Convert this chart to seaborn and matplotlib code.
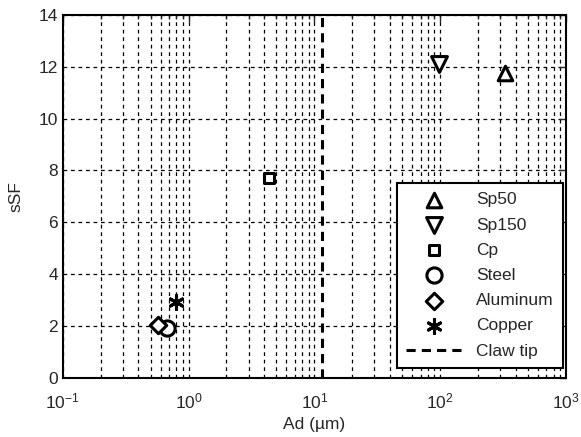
import numpy as np
import pandas as pd
import matplotlib
matplotlib.use("Agg")
import matplotlib.pyplot as plt
import seaborn as sns

# data
materials = ['Sp50', 'Sp150', 'Cp', 'Steel', 'Aluminum', 'Copper']
ad_um = [330, 98, 4.4, 0.67, 0.57, 0.8]
ssf = [11.75, 12.1, 7.7, 1.93, 2.04, 2.93]
claw_tip_ad = 11.6

markers = ['^', 'v', 's', 'o', 'D', (6, 2, 0)]
sizes = [110, 130, 60, 120, 70, 100]

df = pd.DataFrame({'material': materials, 'ad': ad_um, 'ssf': ssf})

sns.set_style('white')
plt.rcParams['font.family'] = ['Liberation Sans', 'DejaVu Sans']
plt.rcParams['mathtext.fontset'] = 'custom'
plt.rcParams['mathtext.rm'] = 'Liberation Sans'

fig, ax = plt.subplots(figsize=(5.81, 4.37), dpi=100)

for m, mk, s in zip(materials, markers, sizes):
    sub = df[df['material'] == m]
    if isinstance(mk, tuple):
        sns.scatterplot(data=sub, x='ad', y='ssf', marker=mk, s=s, color='black',
                        linewidth=2.2, edgecolor='black', label=m, ax=ax, zorder=3)
    else:
        sns.scatterplot(data=sub, x='ad', y='ssf', marker=mk, s=s, facecolor='white',
                        edgecolor='black', linewidth=2.2, label=m, ax=ax, zorder=3)

ax.axvline(claw_tip_ad, color='black', linestyle=(0, (3, 2)), linewidth=2.2, label='Claw tip', zorder=2)

ax.set_xscale('log')
ax.set_xlim(1e-1, 1e3)
ax.set_ylim(0, 14)
ax.set_yticks(np.arange(0, 15, 2))
ax.grid(True, which='major', axis='both', color='black', linestyle=(0, (3, 3)), linewidth=0.9)
ax.grid(True, which='minor', axis='x', color='black', linestyle=(0, (3, 3)), linewidth=0.9)
ax.tick_params(which='both', direction='in', top=True, right=True, labelsize=12.5, width=1)
ax.tick_params(which='major', length=5)
ax.tick_params(which='minor', length=3)
ax.tick_params(axis='x', pad=10)
for sp in ax.spines.values():
    sp.set_color('black')
    sp.set_linewidth(1.5)

ax.set_xlabel('Ad (\u00b5m)', fontsize=12.5, labelpad=4)
ax.set_ylabel('sSF', fontsize=12.5, labelpad=11)

leg = ax.legend(loc='lower right', bbox_to_anchor=(0.994, 0.027), fontsize=12.5,
                frameon=True, fancybox=False, edgecolor='black', framealpha=1,
                borderpad=0.55, labelspacing=0.58, handlelength=3.2,
                handletextpad=0.8, borderaxespad=0)
leg.get_frame().set_linewidth(1.5)

fig.subplots_adjust(left=0.108, right=0.974, top=0.966, bottom=0.135)
fig.savefig('out.png', dpi=100)
